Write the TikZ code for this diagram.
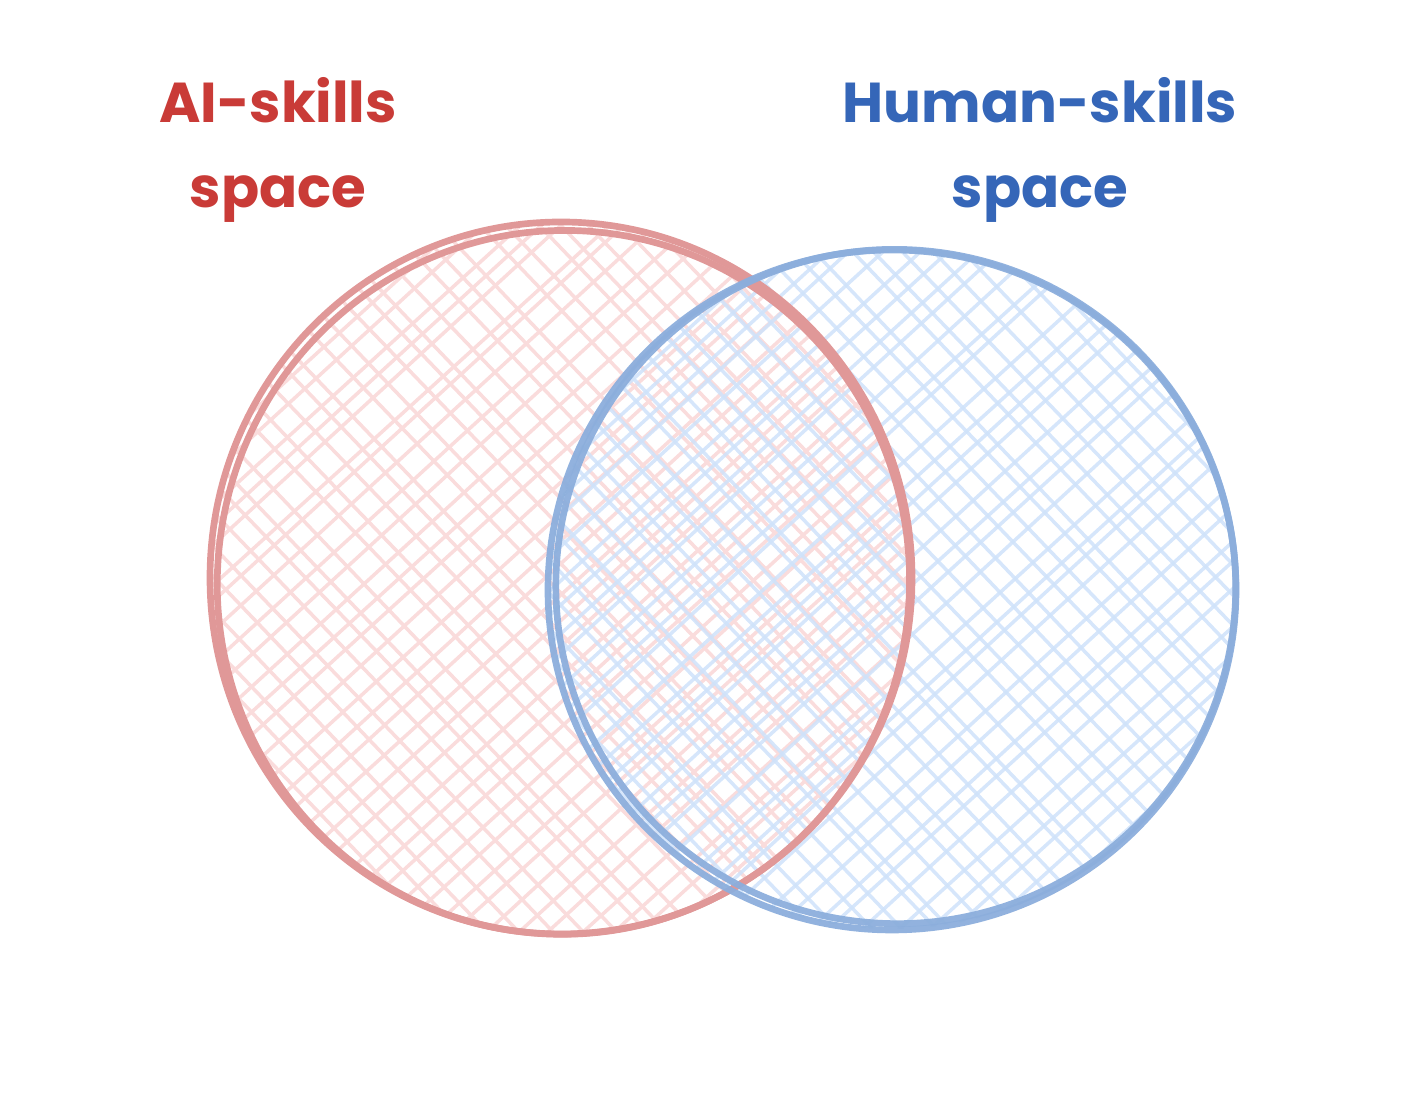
\documentclass[tikz,border=0pt]{standalone}
\usepackage{fontspec}
\setmainfont{Poppins}
\usetikzlibrary{positioning}

\definecolor{aitext}{HTML}{C93B37}
\definecolor{hutext}{HTML}{3566B8}
\definecolor{airing}{HTML}{E09898}
\definecolor{huring}{HTML}{8CAEDC}
\definecolor{aihatch}{HTML}{FADCDC}
\definecolor{huhatch}{HTML}{CFE2FA}

\tikzset{
    aihachure/.style={draw=aihatch,line width=1pt},
    huhachure/.style={draw=huhatch,line width=1pt,opacity=0.85},
    ringline/.style={line width=1.9pt,line cap=round}
}

\begin{document}
\begin{tikzpicture}
    
        \useasboundingbox (0,0) rectangle (14.22,11.18);
        \coordinate (ai) at (5.61,5.40);
        \coordinate (hu) at (8.92,5.28);
        \pgfmathsetseed{11}
    
        % hachure of the AI circle
        \begin{scope}
            \clip (ai) ellipse [x radius=3.5, y radius=3.55];
            \foreach \k in {-32,...,32} {
                \pgfmathsetmacro\ja{0.07*rand}
                \pgfmathsetmacro\jb{0.07*rand}
                \draw[aihachure] ([shift={(\k*0.3-4.6+\ja,-4.6)}]ai) -- ++(9.2,8.4+\jb);
                \draw[aihachure] ([shift={(\k*0.3-4.6+\jb,4.6)}]ai) -- ++(9.2,-9.6+\ja);
            }
        \end{scope}
    
        % hachure of the human circle
        \begin{scope}
            \clip (hu) ellipse [x radius=3.43, y radius=3.39];
            \foreach \k in {-32,...,32} {
                \pgfmathsetmacro\ja{0.07*rand}
                \pgfmathsetmacro\jb{0.07*rand}
                \draw[huhachure] ([shift={(\k*0.3-4.6+\ja,-4.6)}]hu) -- ++(9.2,8.4+\jb);
                \draw[huhachure] ([shift={(\k*0.3-4.6+\jb,4.6)}]hu) -- ++(9.2,-9.6+\ja);
            }
        \end{scope}
    
        % sketchy outlines
        \draw[ringline,airing] (ai) ellipse [x radius=3.51, y radius=3.56];
        \draw[ringline,airing,rotate around={-8:(ai)}] ([shift={(0.03,-0.04)}]ai) ellipse [x radius=3.46, y radius=3.52];
        \draw[ringline,huring,opacity=0.95] (hu) ellipse [x radius=3.44, y radius=3.40];
        \draw[ringline,huring,opacity=0.95,rotate around={-10:(hu)}] ([shift={(0.03,0.04)}]hu) ellipse [x radius=3.40, y radius=3.37];
    
        \begin{scope}[every node/.style={align=center,font=\bfseries\fontsize{16}{24}\selectfont}]
            \node[text=aitext] (aititle) at (2.78,9.68) {AI-skills\\space};
            \node[text=hutext] (hutitle) at (10.40,9.68) {Human-skills\\space};
        \end{scope}
    
    \end{tikzpicture}
\end{document}
